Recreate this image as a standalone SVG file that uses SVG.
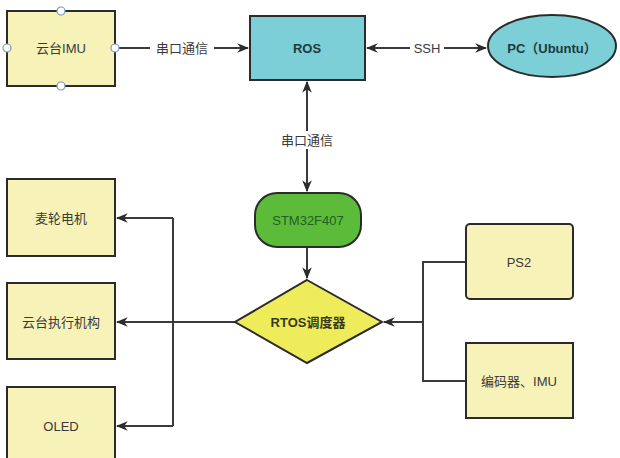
<svg xmlns="http://www.w3.org/2000/svg" width="620" height="458" viewBox="0 0 620 458">
<defs>
<style>
.box{fill:#f6f2b8;stroke:#2b2b2b;stroke-width:2}
.teal{fill:#7ccfd6;stroke:#2b2b2b;stroke-width:2}
.t{font-family:"Liberation Sans","Noto Sans CJK SC",sans-serif;font-size:13px;fill:#3a3a3a;text-anchor:middle;dominant-baseline:central}
.b{font-weight:bold;fill:#1f3a3d}
.ln{fill:none;stroke:#3a3a3a;stroke-width:2}
.h{fill:#fff;stroke:#7d96c8;stroke-width:1.2}
.lbl{fill:#fff}
</style>
<marker id="a" viewBox="0 0 10 10" refX="9" refY="5" markerWidth="6" markerHeight="6" orient="auto-start-reverse" markerUnits="strokeWidth">
<path d="M0,1 L10,5 L0,9 L3,5 Z" fill="#2b2b2b"/>
</marker>
</defs>
<rect width="620" height="458" fill="#fff"/>
<g id="connectors">
<path class="ln" d="M115,48 H248" marker-end="url(#a)"/>
<rect class="lbl" x="150" y="40" width="64" height="16"/>
<text class="t" x="182" y="48">串口通信</text>
<path class="ln" d="M367,48 H486" marker-start="url(#a)" marker-end="url(#a)"/>
<rect class="lbl" x="410" y="40" width="34" height="16"/>
<text class="t" x="427" y="48">SSH</text>
<path class="ln" d="M307,82 V191" marker-start="url(#a)" marker-end="url(#a)"/>
<rect class="lbl" x="275" y="131" width="64" height="18"/>
<text class="t" x="307" y="140">串口通信</text>
<path class="ln" d="M307,247 V278" marker-end="url(#a)"/>
<path class="ln" d="M235,322 H117" marker-end="url(#a)"/>
<path class="ln" d="M173,218 V426"/>
<path class="ln" d="M173,218 H117" marker-end="url(#a)"/>
<path class="ln" d="M173,426 H117" marker-end="url(#a)"/>
<path class="ln" d="M466,262 H423 V381 H466"/>
<path class="ln" d="M423,322 H384" marker-end="url(#a)"/>
</g>
<g id="imu">
<rect class="box" x="7" y="11" width="108" height="75"/>
<text class="t" x="61" y="48">云台IMU</text>
<circle class="h" cx="61" cy="11" r="4"/>
<circle class="h" cx="61" cy="86" r="4"/>
<circle class="h" cx="7" cy="48" r="4"/>
<circle class="h" cx="115" cy="48" r="4"/>
</g>
<g id="ros">
<rect class="teal" x="250" y="16" width="115" height="64"/>
<text class="t b" x="307" y="48">ROS</text>
</g>
<g id="pc">
<ellipse class="teal" cx="552" cy="46" rx="64" ry="31"/>
<text class="t b" x="552" y="48">PC（Ubuntu）</text>
</g>
<g id="stm">
<rect x="255" y="193" width="106" height="54" rx="22" fill="#5dbb3a" stroke="#2b2b2b" stroke-width="2"/>
<text class="t" x="308" y="220" fill="#1e5a1e" style="fill:#22601f">STM32F407</text>
</g>
<g id="rtos">
<polygon points="307,280 382,322 307,363 235,322" fill="#eeec5a" stroke="#2b2b2b" stroke-width="2"/>
<text class="t b" x="308" y="322" style="fill:#3a3a1a">RTOS调度器</text>
</g>
<g id="motor">
<rect class="box" x="7" y="179" width="108" height="77"/>
<text class="t" x="61" y="218">麦轮电机</text>
</g>
<g id="gimbal">
<rect class="box" x="7" y="283" width="108" height="76"/>
<text class="t" x="61" y="322">云台执行机构</text>
</g>
<g id="oled">
<rect class="box" x="7" y="387" width="108" height="76"/>
<text class="t" x="61" y="426">OLED</text>
</g>
<g id="ps2">
<rect class="box" x="466" y="224" width="107" height="75" rx="4"/>
<text class="t" x="519" y="262">PS2</text>
</g>
<g id="encoder">
<rect class="box" x="466" y="343" width="107" height="75"/>
<text class="t" x="519" y="381">编码器、IMU</text>
</g>
</svg>
